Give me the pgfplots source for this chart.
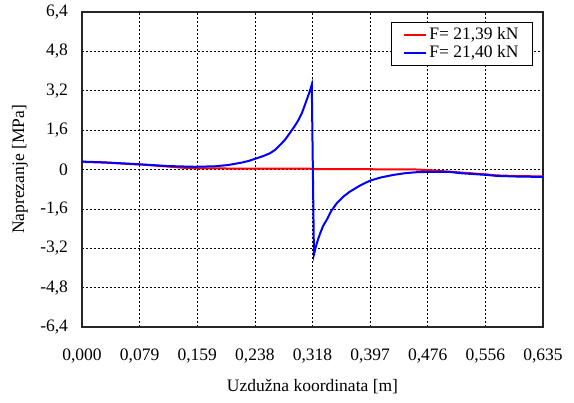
\documentclass[border=0pt]{standalone}
\usepackage{fontspec}
\setmainfont{Liberation Serif}
\usepackage{pgfplots}
\pgfplotsset{compat=1.18}
\begin{document}
\fontsize{17.5}{20}\selectfont
\begin{tikzpicture}
\begin{axis}[
    scale only axis,
    width=461pt, height=315pt,
    xmin=0, xmax=0.635,
    ymin=-6.4, ymax=6.4,
    xtick={0,0.079375,0.15875,0.238125,0.3175,0.396875,0.47625,0.555625,0.635},
    xticklabels={{0,000},{0,079},{0,159},{0,238},{0,318},{0,397},{0,476},{0,556},{0,635}},
    ytick={-6.4,-4.8,-3.2,-1.6,0,1.6,3.2,4.8,6.4},
    yticklabels={{-6,4},{-4,8},{-3,2},{-1,6},{0},{1,6},{3,2},{4,8},{6,4}},
    major tick length=0pt,
    xticklabel style={yshift=-16pt},
    yticklabel style={xshift=-8pt},
    grid=major,
    major grid style={dash pattern=on 2pt off 2pt, black, line width=0.6pt},
    extra y ticks={0},
    extra y tick labels={},
    extra tick style={grid style={solid, line width=1.8pt, black!70}},
    axis line style={line width=1.1pt, black!85},
    xlabel={Uzdužna koordinata [m]},
    ylabel={Naprezanje [MPa]},
    xlabel style={at={(axis description cs:0.5,-0.19)}, anchor=center},
    ylabel style={at={(axis description cs:-0.1345,0.5)}, anchor=center},
    legend style={at={(axis description cs:0.978,0.968)}, anchor=north east,
        draw=black, line width=0.7pt, inner xsep=12pt, inner ysep=3pt,
        row sep=-1pt},
    legend cell align=left,
    legend image code/.code={\draw[#1, line width=2pt] (0pt,0pt) -- (22pt,0pt);},
]
% F = 21,39 kN
\addplot[red, line width=2pt] coordinates {
    (0,0.31) (0.031,0.28) (0.068,0.22) (0.086,0.19) (0.118,0.12)
    (0.140,0.07) (0.160,0.05) (0.200,0.04) (0.250,0.035) (0.318,0.03)
    (0.320,0.01) (0.400,0.01) (0.460,0.0) (0.480,-0.03) (0.520,-0.12)
    (0.557,-0.20) (0.571,-0.24) (0.603,-0.27) (0.635,-0.28)
};
\addlegendentry{F= 21,39 kN}
% F = 21,40 kN
\addplot[blue, line width=2pt] coordinates {
    (0,0.32) (0.031,0.29) (0.068,0.23) (0.086,0.20) (0.118,0.14)
    (0.155,0.11) (0.183,0.13) (0.201,0.18) (0.220,0.28) (0.230,0.35)
    (0.240,0.45) (0.250,0.55) (0.259,0.66) (0.266,0.80) (0.273,1.00)
    (0.280,1.22) (0.286,1.47) (0.292,1.72) (0.298,2.00) (0.303,2.30)
    (0.307,2.62) (0.311,2.95) (0.314,3.20) (0.3165,3.45)
    (0.3195,-3.45) (0.322,-3.15) (0.325,-2.85) (0.328,-2.60) (0.332,-2.30)
    (0.337,-2.05) (0.343,-1.70) (0.351,-1.37) (0.360,-1.10) (0.369,-0.90)
    (0.383,-0.65) (0.397,-0.45) (0.412,-0.32) (0.429,-0.22) (0.445,-0.15)
    (0.461,-0.11) (0.475,-0.10) (0.507,-0.10) (0.521,-0.15) (0.557,-0.22)
    (0.571,-0.26) (0.603,-0.29) (0.635,-0.30)
};
\addlegendentry{F= 21,40 kN}
\end{axis}
\pgfresetboundingbox
\path (-82pt,-76pt) rectangle (492pt,327pt);
\end{tikzpicture}
\end{document}
